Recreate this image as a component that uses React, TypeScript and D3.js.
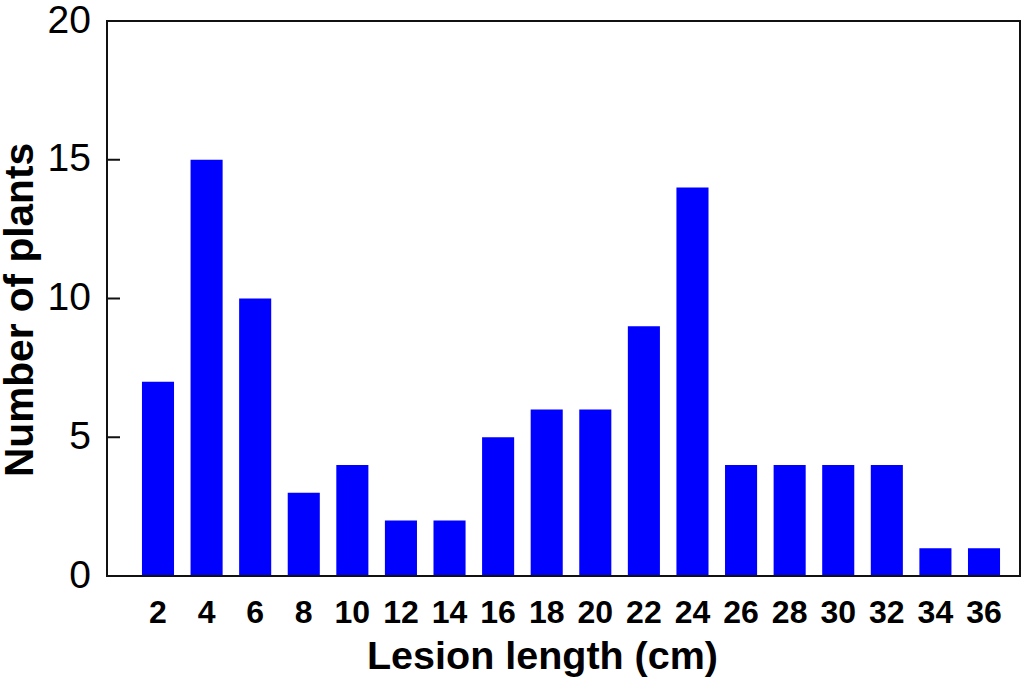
import { useRef, useEffect } from 'react';
import * as d3 from 'd3';

// Lesion length classes (cm) and number of plants in each
const lengths = ['2', '4', '6', '8', '10', '12', '14', '16', '18', '20', '22', '24', '26', '28', '30', '32', '34', '36'];
const plants = [7, 15, 10, 3, 4, 2, 2, 5, 6, 6, 9, 14, 4, 4, 4, 4, 1, 1];
const yTicks = [0, 5, 10, 15, 20];

const xTitle = 'Lesion length (cm)';
const yTitle = 'Number of plants';

function App() {
  const ref = useRef<SVGSVGElement>(null);

  const width = 1024;
  const height = 679;
  const left = 107;
  const right = 1020;
  const top = 21;
  const bottom = 576;

  useEffect(() => {
    const svg = d3.select(ref.current);
    svg.selectAll('*').remove();

    const data = lengths.map((l, i) => ({ label: l, value: plants[i] }));

    // band centers run from ~158 to ~984
    const x = d3.scaleBand<string>()
      .domain(lengths)
      .range([133.7, 1008.3])
      .paddingInner(0.34)
      .paddingOuter(0.17);
    const y = d3.scaleLinear().domain([0, 20]).range([bottom, top]);

    const font = 'Arial, "Liberation Sans", sans-serif';

    // Bars
    svg.append('g')
      .selectAll('rect')
      .data(data)
      .join('rect')
        .attr('x', d => x(d.label)!)
        .attr('y', d => y(d.value))
        .attr('width', x.bandwidth())
        .attr('height', d => y(0) - y(d.value))
        .attr('fill', '#0000ff');

    // Frame
    svg.append('rect')
      .attr('x', left).attr('y', top)
      .attr('width', right - left).attr('height', bottom - top)
      .attr('fill', 'none')
      .attr('stroke', '#111')
      .attr('stroke-width', 2);

    // Inward y ticks
    svg.append('g')
      .selectAll('line')
      .data(yTicks.filter(t => t > 0 && t < 20))
      .join('line')
        .attr('x1', left).attr('x2', left + 13)
        .attr('y1', d => y(d)).attr('y2', d => y(d))
        .attr('stroke', '#111')
        .attr('stroke-width', 2);

    // Y tick labels
    svg.append('g')
      .selectAll('text')
      .data(yTicks)
      .join('text')
        .attr('x', 91)
        .attr('y', d => y(d))
        .attr('dy', '0.3em')
        .attr('text-anchor', 'end')
        .attr('font-family', font)
        .attr('font-size', 39)
        .attr('fill', '#000')
        .text(d => d);

    // X tick labels
    svg.append('g')
      .selectAll('text')
      .data(lengths)
      .join('text')
        .attr('x', d => x(d)! + x.bandwidth() / 2)
        .attr('y', 623)
        .attr('text-anchor', 'middle')
        .attr('font-family', font)
        .attr('font-weight', 'bold')
        .attr('font-size', 32)
        .attr('fill', '#000')
        .text(d => d);

    // X title
    svg.append('text')
      .attr('x', 367)
      .attr('y', 669)
      .attr('font-family', font)
      .attr('font-weight', 'bold')
      .attr('font-size', 38)
      .attr('textLength', 351)
      .attr('lengthAdjust', 'spacingAndGlyphs')
      .attr('fill', '#000')
      .text(xTitle);

    // Y title
    svg.append('text')
      .attr('transform', `translate(33, 310) rotate(-90)`)
      .attr('text-anchor', 'middle')
      .attr('font-family', font)
      .attr('font-weight', 'bold')
      .attr('font-size', 40)
      .attr('textLength', 334)
      .attr('lengthAdjust', 'spacingAndGlyphs')
      .attr('fill', '#000')
      .text(yTitle);
  }, []);

  return (
    <svg
      ref={ref}
      width={width}
      height={height}
      style={{ position: 'absolute', left: 0, top: 0, background: '#fff' }}
    />
  );
}

export default App;
